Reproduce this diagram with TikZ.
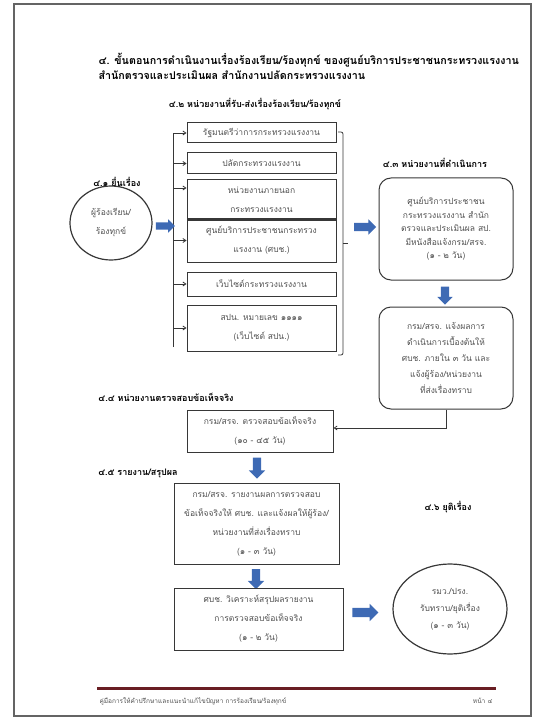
\documentclass[tikz,border=0pt]{standalone}
\usepackage{fontspec}
\newfontfamily\thaifont[Script=Thai]{Loma}
\usetikzlibrary{shapes.geometric,shapes.arrows,arrows.meta}
\definecolor{framegray}{RGB}{100,100,100}
\definecolor{boxline}{RGB}{55,55,55}
\definecolor{txtgray}{RGB}{80,80,80}
\definecolor{arrowblue}{RGB}{62,106,180}
\definecolor{footred}{RGB}{105,30,35}
\tikzset{
  every node/.style={font=\thaifont},
  box/.style={draw=boxline, line width=1pt, text=txtgray, align=center, inner sep=2pt,
    font=\thaifont\fontsize{8.5}{19}\selectfont},
  rbox/.style={box, rounded corners=12pt},
  lbl/.style={font=\thaifont\bfseries\fontsize{9}{11}\selectfont, text=black},
  barrow/.style={single arrow, fill=arrowblue, draw=none, minimum height=20pt,
    minimum width=0pt, single arrow head extend=3.5pt, inner sep=4pt},
  conn/.style={draw=boxline, line width=0.8pt, -{Straight Barb[length=3pt,width=4pt]}},
  brk/.style={draw=boxline, line width=0.8pt},
}
\begin{document}
\begin{tikzpicture}[x=1pt,y=-1pt]
\useasboundingbox (0,0) rectangle (544,719);
\draw[framegray, line width=1.3pt] (14,4) rectangle (531,716);

% title
\node[anchor=west, font=\thaifont\bfseries\fontsize{10.7}{14}\selectfont] (t1) at (95,60)
  {๔. ขั้นตอนการดำเนินงานเรื่องร้องเรียน/ร้องทุกข์ ของศูนย์บริการประชาชนกระทรวงแรงงาน};
\node[anchor=west, font=\thaifont\bfseries\fontsize{10.7}{14}\selectfont] (t2) at (95,75)
  {สำนักตรวจและประเมินผล สำนักงานปลัดกระทรวงแรงงาน};

% section labels
\node[lbl] (l1) at (117,182) {๔.๑ ยื่นเรื่อง};
\node[lbl] (l2) at (255,104) {๔.๒ หน่วยงานที่รับ-ส่งเรื่องร้องเรียน/ร้องทุกข์};
\node[lbl] (l3) at (435,163) {๔.๓ หน่วยงานที่ดำเนินการ};
\node[lbl] (l4) at (166,397) {๔.๔ หน่วยงานตรวจสอบข้อเท็จจริง};
\node[lbl] (l5) at (138,473) {๔.๕ รายงาน/สรุปผล};
\node[lbl] (l6) at (448,507) {๔.๖ ยุติเรื่อง};

% complainant
\node[ellipse, draw=boxline, line width=1.2pt, minimum width=82pt, minimum height=74pt,
  text=txtgray, align=center, font=\thaifont\fontsize{8.5}{19}\selectfont] (c1) at (111,223)
  {ผู้ร้องเรียน/\\ร้องทุกข์};

% receiving units
\node[box, minimum width=149pt, minimum height=20pt] (b1) at (261.5,133) {รัฐมนตรีว่าการกระทรวงแรงงาน};
\node[box, minimum width=149pt, minimum height=21pt] (b2) at (261.5,163.5) {ปลัดกระทรวงแรงงาน};
\node[box, minimum width=149pt, minimum height=40pt] (b3) at (261.5,200) {หน่วยงานภายนอก\\กระทรวงแรงงาน};
\node[box, minimum width=149pt, minimum height=43pt] (b4) at (261.5,240.5) {ศูนย์บริการประชาชนกระทรวง\\แรงงาน (ศบช.)};
\node[box, minimum width=149pt, minimum height=24pt] (b5) at (261.5,284) {เว็บไซต์กระทรวงแรงงาน};
\node[box, minimum width=149pt, minimum height=46pt] (b6) at (261.5,328) {สปน. หมายเลข ๑๑๑๑\\(เว็บไซต์ สปน.)};

% left bracket with arrows
\coordinate (lt) at (173,133);
\coordinate (lb) at (173,347);
\coordinate (b3in) at ([yshift=12pt]b3.west);
\draw[brk] (lb) -- (lt);
\draw[conn] (lt) -- (b1.west);
\draw[conn] (lt|-b2.west) -- (b2.west);
\draw[conn] (lt|-b3in) -- (b3in);
\draw[conn] (lt|-b4.west) -- (b4.west);
\draw[conn] (lt|-b5.west) -- (b5.west);
\draw[conn] (lt|-b6.west) -- (b6.west);

% right bracket
\coordinate (rt) at (343,132);
\coordinate (rb) at (343,355);
\coordinate (rm) at (343,243);
\draw[brk, rounded corners=2pt] ([xshift=-5pt]rt) -- (rt) -- (rb) -- ([xshift=-5pt]rb);
\draw[brk] (rm) -- ++(5,0);

% block arrows
\node[barrow, minimum height=19pt, inner sep=3.5pt, single arrow head extend=3pt] (a1) at (163.5,226) {};
\node[barrow, minimum height=22pt] (a2) at (363,227) {};

% operating units
\node[rbox, minimum width=134pt, minimum height=102pt, font=\thaifont\fontsize{8.5}{13.5}\selectfont] (r1) at (446,229)
  {ศูนย์บริการประชาชน\\กระทรวงแรงงาน สำนัก\\ตรวจและประเมินผล สป.\\มีหนังสือแจ้งกรม/สรจ.\\(๑ - ๒ วัน)};
\node[barrow, rotate=-90, minimum height=18pt] (a3) at (445,293.5) {};
\node[rbox, minimum width=134pt, minimum height=102pt, font=\thaifont\fontsize{8.5}{16}\selectfont] (r2) at (446,358)
  {กรม/สรจ. แจ้งผลการ\\ดำเนินการเบื้องต้นให้\\ศบช. ภายใน ๓ วัน และ\\แจ้งผู้ร้อง/หน่วยงาน\\ที่ส่งเรื่องทราบ};

% fact-finding
\node[box, minimum width=146pt, minimum height=42pt] (b44) at (260,431)
  {กรม/สรจ. ตรวจสอบข้อเท็จจริง\\(๑๐ - ๔๕ วัน)};
\coordinate (b44in) at ([yshift=3pt]b44.east);
\draw[conn] (r2.south) |- (b44in);

\node[barrow, rotate=-90, single arrow head extend=4pt, minimum height=21pt] (a4) at (257,466) {};

% report
\node[box, minimum width=165pt, minimum height=81pt] (b45) at (256.5,523.5)
  {กรม/สรจ. รายงานผลการตรวจสอบ\\ข้อเท็จจริงให้ ศบช. และแจ้งผลให้ผู้ร้อง/\\หน่วยงานที่ส่งเรื่องทราบ\\(๑ - ๓ วัน)};
\node[barrow, rotate=-90, single arrow head extend=4pt, minimum height=20pt] (a5) at (256,577) {};
\node[box, minimum width=169pt, minimum height=62pt] (b46) at (258.5,619)
  {ศบช. วิเคราะห์สรุปผลรายงาน\\การตรวจสอบข้อเท็จจริง\\(๑ - ๒ วัน)};
\node[barrow, minimum height=26pt, inner sep=4.5pt, single arrow head extend=4pt] (a6) at (363,612.5) {};

% end
\node[ellipse, draw=boxline, line width=1.2pt, minimum width=114pt, minimum height=90pt,
  text=txtgray, align=center, font=\thaifont\fontsize{8.5}{17}\selectfont] (e2) at (450,609)
  {รมว./ปรง.\\รับทราบ/ยุติเรื่อง\\(๑ - ๓ วัน)};

% footer
\draw[footred, line width=3pt] (97,688) -- (496,688);
\node[anchor=west, text=txtgray, font=\thaifont\fontsize{6.5}{8}\selectfont] (f1) at (96,701)
  {คู่มือการให้คำปรึกษาและแนะนำแก้ไขปัญหา การร้องเรียน/ร้องทุกข์};
\node[anchor=east, text=txtgray, font=\thaifont\fontsize{6.5}{8}\selectfont] (f2) at (496,701) {หน้า ๔};
\end{tikzpicture}
\end{document}
